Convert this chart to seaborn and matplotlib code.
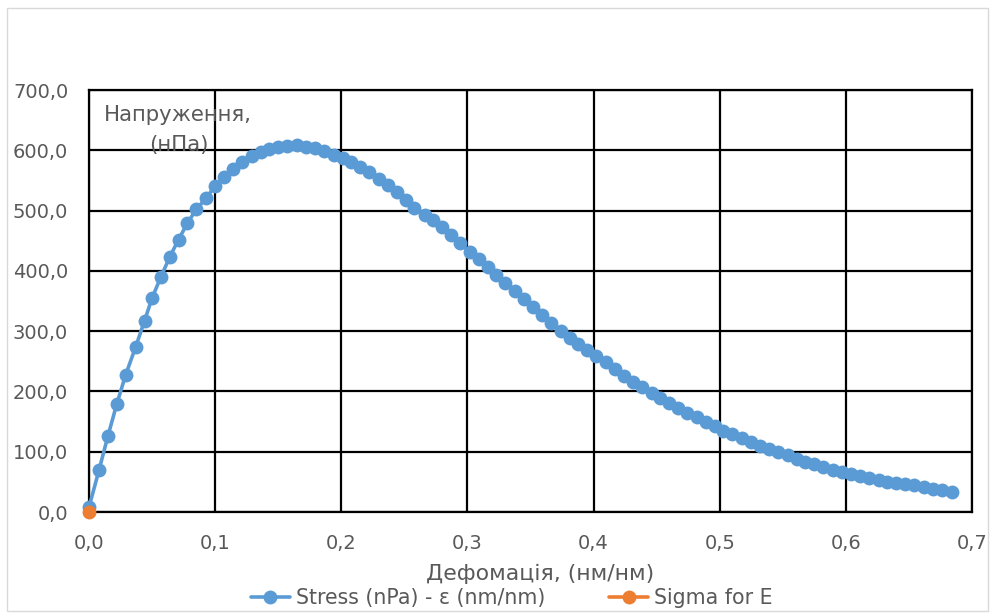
import matplotlib
matplotlib.use("Agg")
import matplotlib.pyplot as plt
import seaborn as sns
import pandas as pd
from matplotlib.lines import Line2D
from matplotlib.patches import Rectangle
from matplotlib.ticker import FuncFormatter

# ---- data ----
strain = [0.000, 0.008, 0.015, 0.022, 0.029, 0.037, 0.044, 0.050, 0.057, 0.064,
          0.071, 0.078, 0.085, 0.093, 0.100, 0.107, 0.114, 0.121, 0.129, 0.136,
          0.143, 0.150, 0.157, 0.165, 0.172, 0.179, 0.186, 0.194, 0.201, 0.208,
          0.215, 0.222, 0.230, 0.237, 0.244, 0.251, 0.258, 0.266, 0.273, 0.280,
          0.287, 0.294, 0.302, 0.309, 0.316, 0.323, 0.330, 0.338, 0.345, 0.352,
          0.359, 0.366, 0.374, 0.381, 0.388, 0.395, 0.402, 0.410, 0.417, 0.424,
          0.431, 0.438, 0.446, 0.453, 0.460, 0.467, 0.474, 0.482, 0.489, 0.496,
          0.503, 0.510, 0.518, 0.525, 0.532, 0.539, 0.546, 0.554, 0.561, 0.568,
          0.575, 0.582, 0.590, 0.597, 0.604, 0.611, 0.618, 0.626, 0.633, 0.640,
          0.647, 0.654, 0.662, 0.669, 0.676, 0.684]
stress = [8, 70, 126, 179, 227, 274, 317, 355, 390, 423,
          452, 479, 502, 521, 541, 555, 569, 580, 590, 597,
          602, 605, 607, 608, 606, 603, 598, 593, 587, 580,
          572, 564, 553, 542, 530, 518, 505, 492, 485, 472,
          459, 446, 431, 419, 406, 393, 380, 366, 353, 340,
          327, 314, 300, 289, 279, 269, 259, 248, 237, 226,
          216, 207, 197, 189, 181, 173, 165, 157, 150, 142,
          135, 129, 122, 116, 110, 105, 100, 94, 88, 83,
          79, 75, 70, 67, 63, 59, 56, 53, 50, 48,
          46, 44, 41, 38, 36, 34]
sigma_e_x = [0.0]
sigma_e_y = [0.0]

series_names = ["Stress (nPa) - ε (nm/nm)", "Sigma for E"]
x_ticks = [0.0, 0.1, 0.2, 0.3, 0.4, 0.5, 0.6, 0.7]
y_ticks = [0, 100, 200, 300, 400, 500, 600, 700]

BLUE = "#5B9BD5"
ORANGE = "#ED7D31"
GRAY = "#595959"

sns.set_style("white")
plt.rcParams["font.family"] = ["DejaVu Sans"]

W, H = 992, 613
fig = plt.figure(figsize=(W / 100, H / 100), dpi=100)
ax = fig.add_axes([89 / W, 1 - 512 / H, (972 - 89) / W, (512 - 90) / H])

MS = 10
df = pd.DataFrame({"strain": strain, "stress": stress})
sns.lineplot(data=df, x="strain", y="stress", ax=ax, color=BLUE, linewidth=2.6,
             marker="o", markersize=MS, markeredgewidth=0, sort=False, zorder=3,
             clip_on=False)
df2 = pd.DataFrame({"x": sigma_e_x, "y": sigma_e_y})
sns.lineplot(data=df2, x="x", y="y", ax=ax, color=ORANGE, linewidth=2.6,
             marker="o", markersize=MS, markeredgewidth=0, zorder=4, clip_on=False)

ax.set_xlim(0, 0.7)
ax.set_ylim(0, 700)
ax.set_xticks(x_ticks)
ax.set_yticks(y_ticks)
ax.xaxis.set_major_formatter(FuncFormatter(lambda v, p: f"{v:.1f}".replace(".", ",")))
ax.yaxis.set_major_formatter(FuncFormatter(lambda v, p: f"{v:.1f}".replace(".", ",")))
ax.grid(True, color="black", linewidth=1.6)
ax.set_axisbelow(True)
for s in ax.spines.values():
    s.set_color("black")
    s.set_linewidth(1.6)
ax.tick_params(axis="both", length=0, labelsize=14, labelcolor=GRAY)
ax.tick_params(axis="x", pad=16)
ax.tick_params(axis="y", pad=15)
ax.set_xlabel("")
ax.set_ylabel("")

# y-axis title placed inside the plot (as in the reference)
fig.text(178 / W, 1 - 115 / H, "Напруження,", ha="center", va="center",
         fontsize=15.3, color=GRAY)
fig.text(179 / W, 1 - 145 / H, "(нПа)", ha="center", va="center",
         fontsize=15.3, color=GRAY)
# x-axis title
fig.text(540 / W, 1 - 574 / H, "Дефомація, (нм/нм)", ha="center", va="center",
         fontsize=15.8, color=GRAY)

handles = [Line2D([0], [0], color=BLUE, lw=2.6, marker="o", markersize=MS, markeredgewidth=0),
           Line2D([0], [0], color=ORANGE, lw=2.6, marker="o", markersize=MS, markeredgewidth=0)]
fig.legend(handles, series_names, loc="center", bbox_to_anchor=(512 / W, 1 - 598 / H),
           ncol=2, frameon=False, fontsize=14.8, labelcolor=GRAY, handlelength=1.9,
           columnspacing=3.1, handletextpad=0.3, borderaxespad=0)

fig.patches.append(Rectangle((7 / W, 1 - 611 / H), (988 - 7) / W, (611 - 8) / H,
                             transform=fig.transFigure, fill=False,
                             edgecolor="#D9D9D9", linewidth=1.0))

fig.savefig("out.png", dpi=100)
